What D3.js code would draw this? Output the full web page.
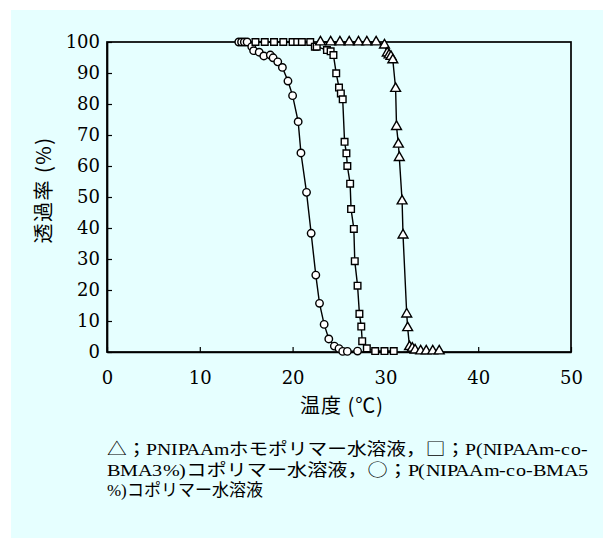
<!DOCTYPE html>
<html>
<head>
<meta charset="utf-8">
<script src="https://cdn.jsdelivr.net/npm/d3@7"></script>
<style>
  @font-face {
    font-family: "CapLatin";
    src: local("Liberation Serif");
    unicode-range: U+0000-00FF;
  }
  body { margin: 0; background: #fff; }
  svg { display: block; }
</style>
</head>
<body>
<svg id="chart" width="603" height="538"></svg>
<script>
// temperature (°C) / transmittance (%)
const circleTemp = [14.2, 14.5, 14.8, 15.1, 15.6, 15.8, 16.4, 16.9, 17.6, 17.9, 18.4, 18.9, 19.5, 20.0, 20.6, 20.9, 21.5, 22.0, 22.5, 22.9, 23.4, 23.9, 24.5, 25.0, 25.4, 25.9, 27.0];
const circleTrans = [100, 100, 100, 100, 98.5, 97.2, 96.7, 95.5, 95.8, 94.9, 93.6, 91.8, 87.4, 82.7, 74.3, 64.2, 51.5, 38.3, 24.8, 15.7, 8.9, 4.2, 1.9, 1.1, 0.2, 0.2, 0.3];

const squareTemp = [16.0, 17.0, 18.0, 19.0, 20.0, 20.5, 21.0, 21.9, 22.4, 22.6, 23.7, 24.1, 24.4, 24.7, 25.0, 25.2, 25.4, 25.6, 25.8, 25.9, 26.2, 26.3, 26.6, 26.7, 27.0, 27.2, 27.4, 27.5, 28.0, 28.9, 29.9, 30.9];
const squareTrans = [100, 100, 100, 100, 100, 100, 100, 100, 98.5, 98.5, 97.4, 97.0, 95.8, 89.9, 85.3, 83.4, 81.5, 67.8, 64.1, 60.0, 54.3, 46.1, 39.7, 29.3, 21.4, 12.3, 8.2, 3.5, 1.2, 0.3, 0.3, 0.3];

const triTemp = [23.0, 24.1, 25.1, 26.1, 27.1, 28.0, 29.0, 29.9, 30.2, 30.4, 30.6, 30.8, 31.1, 31.2, 31.4, 31.5, 31.8, 31.9, 32.3, 32.4, 32.6, 32.9, 33.2, 33.8, 34.4, 35.1, 35.8];
const triTrans = [100, 100, 100, 100, 100, 100, 100, 99, 96.4, 95.8, 95.3, 94.2, 85, 72.7, 67, 62.7, 48.7, 37.7, 12.2, 7.8, 1.7, 1.2, 0.6, 0.3, 0.3, 0.3, 0.3];

const xTicks = [0, 10, 20, 30, 40, 50];
const yTicks = [0, 10, 20, 30, 40, 50, 60, 70, 80, 90, 100];

const yLabel = '透過率 (%)';
const xLabel = '温度 (℃)';
const captionLines = [
  '△；PNIPAAmホモポリマー水溶液，□；P(NIPAAm-co-',
  'BMA3%)コポリマー水溶液，○；P(NIPAAm-co-BMA5',
  '%)コポリマー水溶液'
];

const tickFont = '"DejaVu Serif", serif';
const cjk = '"Noto Sans CJK JP", sans-serif';

const svg = d3.select('#chart');

// pale cyan panel
svg.append('rect')
  .attr('x', 11).attr('y', 10)
  .attr('width', 603 - 11).attr('height', 538 - 10)
  .attr('fill', '#e6ffff');

const plotL = 107, plotR = 571, plotT = 42, plotB = 352;

const x = d3.scaleLinear().domain([0, 50]).range([plotL, plotR]);
const y = d3.scaleLinear().domain([0, 100]).range([plotB, plotT]);

// frame
svg.append('rect')
  .attr('x', plotL).attr('y', plotT)
  .attr('width', plotR - plotL).attr('height', plotB - plotT)
  .attr('fill', 'none')
  .attr('stroke', '#000')
  .attr('stroke-width', 1.7);

const xAxis = svg.append('g')
  .attr('transform', `translate(0,${plotB})`)
  .call(d3.axisBottom(x).tickValues(xTicks).tickSizeInner(-5).tickSizeOuter(0).tickPadding(19));

const yAxis = svg.append('g')
  .attr('transform', `translate(${plotL},0)`)
  .call(d3.axisLeft(y).tickValues(yTicks).tickSizeInner(-5).tickSizeOuter(0).tickPadding(7));

[xAxis, yAxis].forEach((g) => {
  g.attr('font-family', tickFont).attr('font-size', 18);
  g.select('.domain').attr('stroke', '#000').attr('stroke-width', 1.7);
  g.selectAll('.tick line').attr('stroke', '#000').attr('stroke-width', 1.2);
  g.selectAll('.tick text')
    .attr('fill', '#000')
    .style('font-family', tickFont)
    .style('font-size', '18px');
});

// axis titles
svg.append('text')
  .attr('transform', 'translate(46,190) rotate(-90)')
  .attr('text-anchor', 'middle')
  .attr('dominant-baseline', 'middle')
  .attr('font-family', cjk)
  .attr('font-size', 20)
  .attr('letter-spacing', 1.5)
  .attr('fill', '#000')
  .text(yLabel);

svg.append('text')
  .attr('x', 342).attr('y', 408)
  .attr('text-anchor', 'middle')
  .attr('dominant-baseline', 'middle')
  .attr('font-family', cjk)
  .attr('font-size', 20)
  .attr('letter-spacing', 1)
  .attr('fill', '#000')
  .text(xLabel);

// series
const line = d3.line()
  .x((d) => x(d[0]))
  .y((d) => y(d[1]));

const series = [
  { temp: circleTemp, trans: circleTrans, shape: d3.symbolCircle, size: 44 },
  { temp: squareTemp, trans: squareTrans, shape: d3.symbolSquare, size: 44 },
  { temp: triTemp, trans: triTrans, shape: d3.symbolTriangle, size: 42 },
];

series.forEach((s) => {
  const pts = s.temp.map((t, i) => [t, s.trans[i]]);
  svg.append('path')
    .attr('d', line(pts))
    .attr('fill', 'none')
    .attr('stroke', '#000')
    .attr('stroke-width', 1.4);

  svg.append('g')
    .selectAll('path')
    .data(pts)
    .enter()
    .append('path')
    .attr('transform', (d) => `translate(${x(d[0])},${y(d[1])})`)
    .attr('d', d3.symbol().type(s.shape).size(s.size))
    .attr('fill', '#fff')
    .attr('stroke', '#000')
    .attr('stroke-width', 1.4);
});

// caption under the chart
const capWidths = [481, 482, null];
svg.append('g')
  .selectAll('text')
  .data(captionLines)
  .enter()
  .append('text')
  .attr('x', 107)
  .attr('y', (d, i) => 455 + i * 20.5)
  .style('font-family', `"CapLatin", ${cjk}`)
  .style('font-size', '17px')
  .attr('fill', '#000')
  .each(function (d, i) {
    if (capWidths[i]) {
      d3.select(this)
        .attr('textLength', capWidths[i])
        .attr('lengthAdjust', 'spacingAndGlyphs');
    }
  })
  .text((d) => d);
</script>
</body>
</html>
